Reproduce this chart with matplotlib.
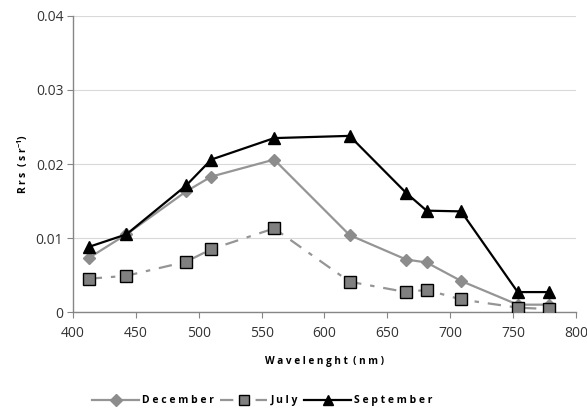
import matplotlib
matplotlib.use("Agg")
import matplotlib.pyplot as plt
from matplotlib.lines import Line2D

wavelength = [412.5, 442.5, 490, 510, 560, 620, 665, 681.25, 708.75, 753.75, 778.75]
december = [0.0073, 0.0105, 0.0163, 0.0183, 0.0206, 0.0104, 0.0071, 0.0067, 0.0042, 0.0010, 0.0010]
july = [0.0045, 0.0049, 0.0068, 0.0085, 0.0113, 0.0041, 0.0027, 0.0030, 0.0017, 0.0006, 0.0004]
september = [0.0088, 0.0105, 0.0171, 0.0206, 0.0235, 0.0238, 0.0161, 0.0137, 0.0136, 0.0027, 0.0027]

xticks = [400, 450, 500, 550, 600, 650, 700, 750, 800]
yticks = [0, 0.01, 0.02, 0.03, 0.04]
ytick_labels = ["0", "0.01", "0.02", "0.03", "0.04"]

plt.rcParams['font.family'] = ['Open Sans', 'DejaVu Sans']

fig = plt.figure(figsize=(5.87, 4.09), dpi=100)
ax = fig.add_axes([0.1244, 0.237, 0.8566, 0.724])

gray = '#959595'
ax.plot(wavelength, december, color=gray, lw=1.6, marker='D', ms=6.5,
        mfc='#8c8c8c', mec='#8c8c8c', label='December', zorder=3)
ax.plot(wavelength, july, color=gray, lw=1.6, linestyle=(0, (6, 4, 2, 4)),
        marker='s', ms=8, mfc='#808080', mec='black', mew=1.0, label='July', zorder=3)
ax.plot(wavelength, september, color='black', lw=1.6, marker='^', ms=8.5,
        mfc='black', mec='black', label='September', zorder=4)

ax.set_xlim(400, 800)
ax.set_ylim(0, 0.04)
ax.set_xticks(xticks)
ax.set_yticks(yticks)
ax.set_yticklabels(ytick_labels)
ax.yaxis.grid(True, color='#d9d9d9', lw=0.8)
ax.set_axisbelow(True)
for s in ['top', 'right']:
    ax.spines[s].set_visible(False)
for s in ['left', 'bottom']:
    ax.spines[s].set_color('#868686')
    ax.spines[s].set_linewidth(1.0)
ax.tick_params(axis='both', direction='out', length=4, color='#868686',
               labelsize=10, labelcolor='#333333')
ax.tick_params(axis='x', pad=6)
ax.tick_params(axis='y', pad=3)

ax.set_xlabel('W a v e l e n g h t  ( n m )', fontsize=7.2, fontweight='bold', labelpad=11)
ax.set_ylabel(r'R r s  ( s r$^{\mathregular{-1}}$)', fontsize=7.5, fontweight='bold', labelpad=4)

handles = [
    Line2D([], [], color=gray, lw=1.6, marker='D', ms=6, mfc='#8c8c8c', mec='#8c8c8c'),
    Line2D([], [], color=gray, lw=1.6, linestyle=(0, (6, 4, 2, 4)), marker='s', ms=7,
           mfc='#808080', mec='black'),
    Line2D([], [], color='black', lw=1.6, marker='^', ms=7.5, mfc='black', mec='black'),
]
labels = ['D e c e m b e r', 'J u l y', 'S e p t e m b e r']
fig.legend(handles, labels, loc='center', bbox_to_anchor=(0.447, 0.02), ncol=3,
           frameon=False, prop={'weight': 'bold', 'size': 7.5},
           handlelength=4.5, handletextpad=0.3, columnspacing=0.6)

fig.savefig('out.png', dpi=100)
